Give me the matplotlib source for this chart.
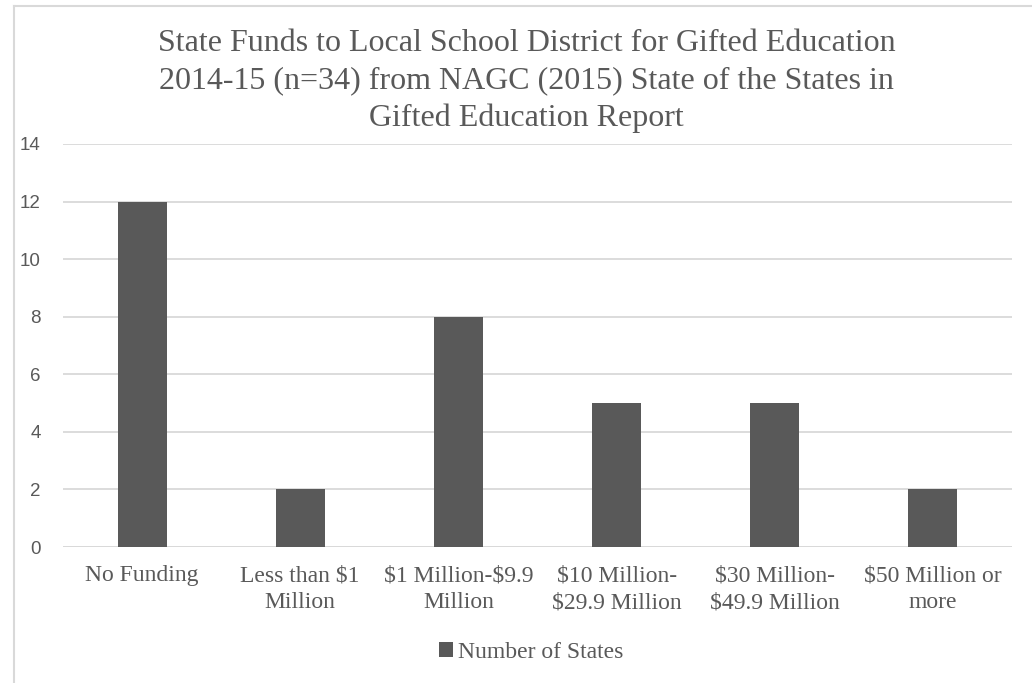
import matplotlib
matplotlib.use("Agg")
import matplotlib.pyplot as plt
from matplotlib.lines import Line2D
from matplotlib.patches import Patch

plt.rcParams["text.parse_math"] = False

categories = ["No Funding", "Less than $1\nMillion", "$1 Million-$9.9\nMillion",
              "$10 Million-\n$29.9 Million", "$30 Million-\n$49.9 Million", "$50 Million or\nmore"]
values = [12, 2, 8, 5, 5, 2]
yticks = [0, 2, 4, 6, 8, 10, 12, 14]
title = ("State Funds to Local School District for Gifted Education\n"
         "2014-15 (n=34) from NAGC (2015) State of the States in\n"
         "Gifted Education Report")
series_name = "Number of States"

bar_color = "#595959"
text_color = "#595959"
grid_color = "#d9d9d9"
serif = ["Liberation Serif", "DejaVu Serif"]
sans = ["Liberation Sans", "DejaVu Sans"]

fig = plt.figure(figsize=(10.32, 6.83), dpi=100)
ax = fig.add_axes([63/1032, 1 - 547/683, (1012 - 63)/1032, (547 - 144)/683])

x = list(range(len(categories)))
ax.bar(x, values, width=0.31, color=bar_color, zorder=3)
ax.set_xlim(-0.5, len(categories) - 0.5)
ax.set_ylim(0, 14)
ax.set_yticks(yticks)
ax.set_yticklabels([str(t) for t in yticks], fontfamily=sans, fontsize=13.5, color=text_color)
ax.set_xticks(x)
ax.set_xticklabels(categories, fontfamily=serif, fontsize=17, color=text_color, linespacing=1.4)
ax.tick_params(axis="both", length=0)
ax.tick_params(axis="y", pad=16)
ax.tick_params(axis="x", pad=13)
ax.yaxis.grid(True, color=grid_color, linewidth=1.3, zorder=0)
for s in ax.spines.values():
    s.set_visible(False)
ax.axhline(0, color=grid_color, linewidth=1.3, zorder=2)

fig.text(0.51, 1 - 81/683, title, ha="center", va="center", fontfamily=serif,
         fontsize=23, color=text_color, linespacing=1.38)

# legend
fig.legend(handles=[Patch(facecolor=bar_color, edgecolor="none")], labels=[series_name],
           loc="center", bbox_to_anchor=(531/1032, 1 - 652/683), frameon=False,
           prop={"family": serif, "size": 17}, labelcolor=text_color,
           handlelength=0.6, handleheight=0.6, handletextpad=0.2)

# chart border (left and top visible)
fig.add_artist(Line2D([13.5/1032, 13.5/1032], [0, 1 - 6/683], transform=fig.transFigure,
                      color="#d9d9d9", linewidth=1.5))
fig.add_artist(Line2D([13.5/1032, 1], [1 - 6/683, 1 - 6/683], transform=fig.transFigure,
                      color="#d9d9d9", linewidth=1.5))

fig.savefig("out.png", dpi=100)
